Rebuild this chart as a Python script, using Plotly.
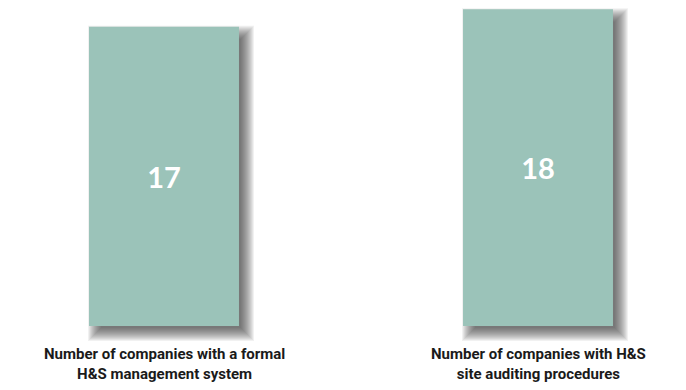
import plotly.graph_objects as go

categories = ["Number of companies with a formal<br>H&S management system",
              "Number of companies with H&S<br>site auditing procedures"]
values = [17, 18]
positions = [0, 1]

BAR_COLOR = "#9bc3b9"
FONT = "Roboto"

PX_X = 1 / 374.0    # x units per pixel
PX_Y = 1 / 17.6     # y units per pixel
BAR_W = 0.401

fig = go.Figure()

# soft drop shadow: stacked translucent rectangles, offset right/down
shift = 7
for grow in range(-5, 9):
    w = BAR_W + 2 * grow * PX_X
    base = -(shift + grow) * PX_Y
    fig.add_trace(go.Bar(
        x=[p + shift * PX_X for p in positions],
        y=[v + (grow - shift) * PX_Y - base for v in values],
        base=[base] * len(values),
        width=w,
        marker=dict(color="rgba(40,40,40,0.065)", line=dict(width=0)),
        hoverinfo="skip",
        showlegend=False,
    ))

fig.add_trace(go.Bar(
    x=positions,
    y=values,
    width=BAR_W,
    marker=dict(color=BAR_COLOR, line=dict(width=0)),
    text=[str(v) for v in values],
    textposition="inside",
    insidetextanchor="middle",
    textfont=dict(family="Lato", size=29, color="white", weight="bold"),
    showlegend=False,
))

for p, c in zip(positions, categories):
    fig.add_annotation(
        x=p, y=-0.95, xref="x", yref="y",
        text=f"<b>{c}</b>", showarrow=False,
        yanchor="top", align="center",
        font=dict(family=FONT, size=15, color="#1a1a1a"),
    )

fig.update_layout(
    width=686, height=390,
    margin=dict(l=0, r=0, t=0, b=0),
    paper_bgcolor="white", plot_bgcolor="white",
    barmode="overlay",
    xaxis=dict(range=[-0.4385, 1.3957], visible=False, fixedrange=True),
    yaxis=dict(range=[-3.64, 18.52], visible=False, fixedrange=True),
)

fig.write_html("out.html")
